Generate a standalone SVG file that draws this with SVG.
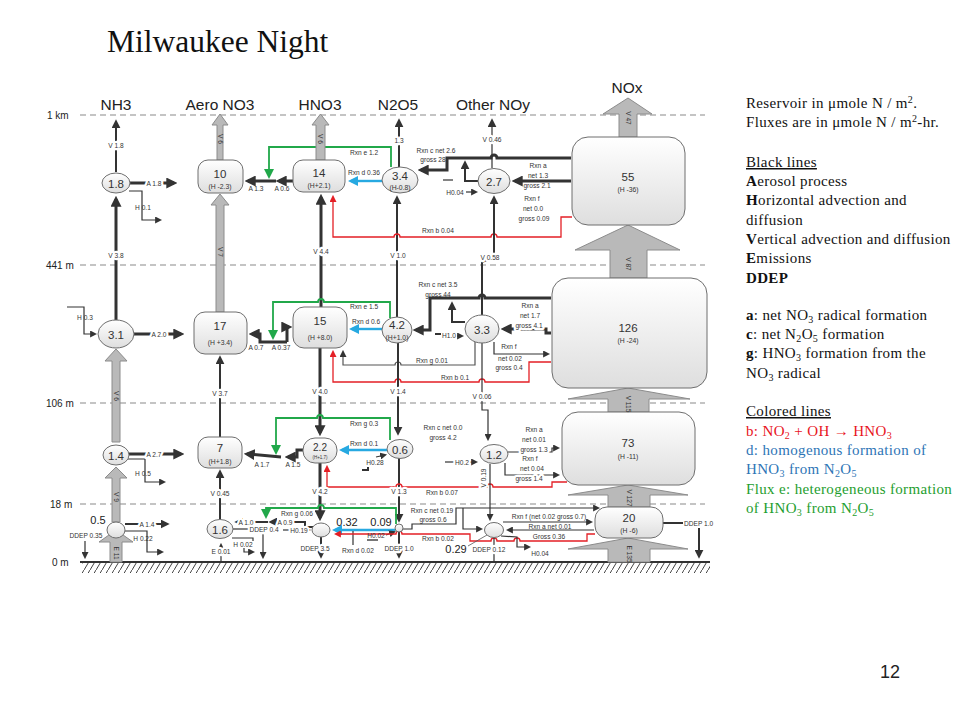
<svg xmlns="http://www.w3.org/2000/svg" width="960" height="720" viewBox="0 0 960 720">
<defs>
<linearGradient id="ng" x1="0" y1="0" x2="0" y2="1"><stop offset="0" stop-color="#ffffff"/><stop offset="1" stop-color="#dedede"/></linearGradient>
<pattern id="hatch" width="6" height="10" patternUnits="userSpaceOnUse"><path d="M0 10L6 0" stroke="#444" stroke-width="1"/></pattern>
<marker id="ak" viewBox="0 0 10 10" refX="7" refY="5" markerWidth="7" markerHeight="7" markerUnits="userSpaceOnUse" orient="auto"><path d="M0,0L10,5L0,10z" fill="#333"/></marker>
<marker id="am" viewBox="0 0 10 10" refX="7" refY="5" markerWidth="9" markerHeight="9" markerUnits="userSpaceOnUse" orient="auto"><path d="M0,0L10,5L0,10z" fill="#333"/></marker>
<marker id="aK" viewBox="0 0 10 10" refX="7" refY="5" markerWidth="11" markerHeight="11" markerUnits="userSpaceOnUse" orient="auto"><path d="M0,0L10,5L0,10z" fill="#333"/></marker>
<marker id="ag" viewBox="0 0 10 10" refX="7" refY="5" markerWidth="10" markerHeight="10" markerUnits="userSpaceOnUse" orient="auto"><path d="M0,0L10,5L0,10z" fill="#21a84a"/></marker>
<marker id="ab" viewBox="0 0 10 10" refX="7" refY="5" markerWidth="10" markerHeight="10" markerUnits="userSpaceOnUse" orient="auto"><path d="M0,0L10,5L0,10z" fill="#27a9e1"/></marker>
<marker id="ar" viewBox="0 0 10 10" refX="7" refY="5" markerWidth="7" markerHeight="7" markerUnits="userSpaceOnUse" orient="auto"><path d="M0,0L10,5L0,10z" fill="#e41f26"/></marker>
</defs>
<style>
.k1{fill:none;stroke:#333;stroke-width:1.2}
.k2{fill:none;stroke:#333;stroke-width:2}
.k3{fill:none;stroke:#333;stroke-width:3}
.g{fill:none;stroke:#21a84a;stroke-width:1.8}
.b{fill:none;stroke:#27a9e1;stroke-width:2.4}
.r{fill:none;stroke:#e41f26;stroke-width:1.3}
.grid{stroke:#8a8a8a;stroke-width:1.2;stroke-dasharray:6 4}
.blk{fill:#b9b9b9;stroke:#8c8c8c;stroke-width:1}
.node{fill:url(#ng);stroke:#6e6e6e;stroke-width:1}
text{font-family:"Liberation Sans",Arial,sans-serif;fill:#333}
.t{font-size:6.6px;text-anchor:middle}
.hl{paint-order:stroke;stroke:#fff;stroke-width:4.5px;stroke-linejoin:round}
.n{font-size:11.5px;text-anchor:middle}
.s{font-size:6.8px;text-anchor:middle}
.hd{font-size:15.5px;text-anchor:middle;fill:#222}
.ax{font-size:10px;fill:#222}
.v{font-size:11px;text-anchor:middle;fill:#222}
.lg{font-family:"Liberation Serif","Times New Roman",serif;font-size:15px;letter-spacing:0.35px;fill:#111}
</style>
<rect width="960" height="720" fill="#fff"/>

<text x="107" y="52" style="font-family:'Liberation Serif','Times New Roman',serif;font-size:31.5px;fill:#111">Milwaukee Night</text>

<g id="axes">
<path class="grid" d="M80 115H705M80 265H705M80 403H705M80 504H705"/>
<text class="ax" x="47" y="119">1 km</text>
<text class="ax" x="46" y="269">441 m</text>
<text class="ax" x="46" y="407">106 m</text>
<text class="ax" x="50" y="508">18 m</text>
<text class="ax" x="52" y="566">0 m</text>
<rect x="82" y="563" width="628" height="10" fill="url(#hatch)"/>
<path d="M80 562H710" stroke="#333" stroke-width="2.2"/>
</g>

<g id="headers">
<text class="hd" x="116" y="110">NH3</text>
<text class="hd" x="220" y="110">Aero NO3</text>
<text class="hd" x="320" y="110">HNO3</text>
<text class="hd" x="398" y="110">N2O5</text>
<text class="hd" x="493" y="110">Other NOy</text>
<text class="hd" x="627" y="93">NOx</text>
</g>

<g id="connectors">
<!-- top layer -->
<path class="k2" d="M116 172V122" marker-end="url(#am)"/>
<path class="k3" d="M130 183H174" marker-end="url(#aK)"/>
<path class="k1" d="M129 191H142V220H160" marker-end="url(#ak)"/>
<path class="k3" d="M116 320V199" marker-end="url(#aK)"/>
<path class="k3" d="M293 181H279" marker-end="url(#aK)"/>
<path class="k3" d="M276 181H248" marker-end="url(#aK)"/>
<path class="g" d="M391 167V147H269V176" marker-end="url(#ag)"/>
<path class="b" d="M382 181H351" marker-end="url(#ab)"/>
<path class="k2" d="M399 167V121" marker-end="url(#am)"/>
<path class="k2" d="M397 317V198" marker-end="url(#am)"/>
<path class="k3" d="M321 307V197" marker-end="url(#aK)"/>
<path class="k3" d="M571 158H497A3 3 0 0 0 491 158H447V170H421" marker-end="url(#aK)"/>
<path class="k2" d="M478 181H465V163" marker-end="url(#am)"/>
<path class="k3" d="M571 181H515" marker-end="url(#aK)"/>
<path class="k1" d="M492 168V121" marker-end="url(#am)"/>
<path class="k1" d="M443 180H453"/>
<path class="k1" d="M466 192H476" marker-end="url(#ak)"/>
<path class="r" d="M572 217H561V237H497A3 3 0 0 0 491 237H400A3 3 0 0 0 394 237H333V197" marker-end="url(#ar)"/>
<!-- middle layer -->
<path class="k1" d="M67 307H84V334H95" marker-end="url(#ak)"/>
<path class="k3" d="M134 334H181" marker-end="url(#aK)"/>
<path class="k3" d="M287 342H260V334H252" marker-end="url(#aK)"/>
<path class="k3" d="M287 342V327H289" marker-end="url(#aK)"/>
<path class="g" d="M390 318V302H324A3 3 0 0 0 318 302H273V337" marker-end="url(#ag)"/>
<path class="b" d="M382 329H352" marker-end="url(#ab)"/>
<path class="k3" d="M551 298H485A3 3 0 0 0 479 298H430V330H416" marker-end="url(#aK)"/>
<path class="k2" d="M465 322H452V304" marker-end="url(#am)"/>
<path class="k3" d="M551 333H546V329H504" marker-end="url(#aK)"/>
<path class="k1" d="M494 342V354H548" marker-end="url(#ak)"/>
<path class="k2" d="M435 334H441"/>
<path class="k1" d="M457 336H462" marker-end="url(#ak)"/>
<path class="k2" d="M482 315V262L494 257V198" marker-end="url(#am)"/>
<path class="k1" d="M475 342V365H401A3 3 0 0 0 395 365H343V352" marker-end="url(#ak)" style="stroke:#555"/>
<path class="r" d="M551 362H529V382H485A3 3 0 0 0 479 382H401A3 3 0 0 0 395 382H333V352" marker-end="url(#ar)"/>
<path class="k2" d="M398 343V433" marker-end="url(#am)"/>
<path class="k3" d="M320 348V433" marker-end="url(#aK)"/>
<path class="k1" d="M482 343V410H488V439" marker-end="url(#ak)"/>
<path class="k2" d="M220 437V358" marker-end="url(#am)"/>
<!-- lower layer -->
<path class="k3" d="M129 454H181" marker-end="url(#aK)"/>
<path class="k1" d="M128 459H145V482H164" marker-end="url(#ak)"/>
<path class="k3" d="M303 450H297V457H288" marker-end="url(#aK)"/>
<path class="k3" d="M281 457L247 454" marker-end="url(#aK)"/>
<path class="g" d="M390 440V418H323A3 3 0 0 0 317 418H276V452" marker-end="url(#ag)"/>
<path class="b" d="M387 450H342" marker-end="url(#ab)"/>
<path class="k1" d="M376 457L385 455" marker-end="url(#ak)"/>
<path class="k2" d="M362 470H368V467"/>
<path class="k2" d="M399 458V520" marker-end="url(#am)"/>
<path class="k3" d="M320 463V518" marker-end="url(#aK)"/>
<path class="k1" d="M445 462H476" marker-end="url(#ak)"/>
<path class="k1" d="M508 452H552V448H558" marker-end="url(#ak)"/>
<path class="k1" d="M505 463V475H558" marker-end="url(#ak)"/>
<path class="r" d="M567 482H552V487H493A3 3 0 0 0 487 487H402A3 3 0 0 0 396 487H327V467" marker-end="url(#ar)"/>
<path class="k1" d="M490 464V519" marker-end="url(#ak)"/>
<!-- bottom layer -->
<path class="k2" d="M125 524H167" marker-end="url(#am)"/>
<path class="k1" d="M125 531H147V552H162" marker-end="url(#ak)"/>
<path class="k1" d="M85 541V557" marker-end="url(#ak)"/>
<path class="k2" d="M220 519V472" marker-end="url(#am)"/>
<path class="k1" d="M221 562V545" marker-end="url(#ak)"/>
<path class="k2" d="M313 527H305V522H271" marker-end="url(#am)"/>
<path class="k2" d="M268 522H237" marker-end="url(#am)"/>
<path class="g" d="M396 524V508H324A3 3 0 0 0 318 508H266V516" marker-end="url(#ag)"/>
<path class="k1" d="M233 529H249"/>
<path class="k1" d="M263 534V557" marker-end="url(#ak)"/>
<path class="k1" d="M283 530H309" marker-end="url(#ak)"/>
<path class="k1" d="M232 538H253V541"/>
<path class="k1" d="M244 548V552H253" marker-end="url(#ak)"/>
<path class="k2" d="M321 537V556" marker-end="url(#am)"/>
<path class="b" d="M395 530H335" marker-end="url(#ab)"/>
<path class="k1" d="M353 531V545"/>
<path class="k1" d="M386 535L394 532" marker-end="url(#ak)"/>
<path d="M367 540H378" stroke="#777" stroke-width="2"/>
<path class="r" d="M595 534H587V541H520A3 3 0 0 0 514 541H497A3 3 0 0 0 491 541H470V534H402A3 3 0 0 0 396 534H336" marker-end="url(#ar)"/>
<path class="k1" d="M403 529H412V524H456V508H598" marker-end="url(#ak)"/>
<path class="k1" d="M463 508V529H481" marker-end="url(#ak)"/>
<path class="k1" d="M503 522H591" marker-end="url(#ak)"/>
<path class="k1" d="M594 530H508" marker-end="url(#ak)"/>
<path class="k1" d="M501 536L517 537V547H529" marker-end="url(#ak)"/>
<path class="k1" d="M494 538V561"/>
<path d="M468 546L487 535" stroke="#555" stroke-width="0.8"/>
<path class="k2" d="M399 532V556" marker-end="url(#am)"/>
<path class="k2" d="M663 523H683"/>
<path class="k2" d="M699 528V556" marker-end="url(#am)"/>
<!-- block arrows -->
<path class="blk" d="M619 137V114H603L628 98L652 114H637V137Z"/>
<path class="blk" d="M610 278V250H575L628 225L680 250H647V278Z"/>
<path class="blk" d="M608 412V399H568L628 388L690 399H649V412Z"/>
<path class="blk" d="M608 507V495H568L628 485L688 495H650V507Z"/>
<path class="blk" d="M608 562V549H568L628 538L688 549H650V562Z"/>
<path class="blk" d="M217 160V125H212L220 114L228 125H223V160Z"/>
<path class="blk" d="M216 312V205H211L220 194L229 205H224V312Z"/>
<path class="blk" d="M316 160V125H312L320.5 114L329 125H325V160Z"/>
<path class="blk" d="M112 442V361H105L116 349L127 361H120V442Z"/>
<path class="blk" d="M112 522V478H105L116 467L127 478H120V522Z"/>
<path class="blk" d="M110 562V542H99L116 530L133 542H122V562Z"/>
</g>

<g id="n-nh3-1"><ellipse class="node" cx="116" cy="183" rx="14" ry="10"/><text class="n" x="116" y="187.5">1.8</text></g>
<g id="n-aero-1"><rect class="node" x="198" y="160" width="45" height="33" rx="10"/><text class="n" x="220" y="178">10</text><text class="s" x="220" y="189">(H -2.3)</text></g>
<g id="n-hno3-1"><rect class="node" x="293" y="160" width="52" height="32" rx="10"/><text class="n" x="319" y="177">14</text><text class="s" x="319" y="188">(H+2.1)</text></g>
<g id="n-n2o5-1"><ellipse class="node" cx="400" cy="180" rx="18" ry="13"/><text class="n" x="400" y="180">3.4</text><text class="s" x="400" y="190">(H-0.8)</text></g>
<g id="n-noy-1"><ellipse class="node" cx="494" cy="181" rx="16" ry="12.5"/><text class="n" x="494" y="185.5">2.7</text></g>
<g id="n-nox-1"><rect class="node" x="572" y="137" width="113" height="88" rx="16"/><text class="n" x="628" y="181">55</text><text class="s" x="628" y="192">(H -36)</text></g>

<g id="n-nh3-2"><ellipse class="node" cx="116" cy="334" rx="18" ry="14"/><text class="n" x="116" y="338.5">3.1</text></g>
<g id="n-aero-2"><rect class="node" x="194" y="312" width="53" height="42" rx="11"/><text class="n" x="220" y="330">17</text><text class="s" x="220" y="345">(H +3.4)</text></g>
<g id="n-hno3-2"><rect class="node" x="293" y="307" width="54" height="41" rx="11"/><text class="n" x="320" y="325">15</text><text class="s" x="320" y="340">(H +8.0)</text></g>
<g id="n-n2o5-2"><ellipse class="node" cx="397" cy="330" rx="15" ry="13"/><text class="n" x="397" y="329">4.2</text><text class="s" x="397" y="339.5">(H+1.0)</text></g>
<g id="n-noy-2"><ellipse class="node" cx="482" cy="329" rx="17" ry="14"/><text class="n" x="482" y="333.5">3.3</text></g>
<g id="n-nox-2"><rect class="node" x="552" y="278" width="155" height="110" rx="16"/><text class="n" x="628" y="332">126</text><text class="s" x="628" y="343">(H -24)</text></g>

<g id="n-nh3-3"><ellipse class="node" cx="116" cy="455" rx="13" ry="10"/><text class="n" x="116" y="459.5">1.4</text></g>
<g id="n-aero-3"><rect class="node" x="198" y="437" width="44" height="31" rx="10"/><text class="n" x="220" y="452">7</text><text class="s" x="220" y="464">(H+1.8)</text></g>
<g id="n-hno3-3"><rect class="node" x="303" y="438" width="34" height="25" rx="12"/><text class="n" x="320" y="451" style="font-size:10px">2.2</text><text class="s" x="320" y="459" style="font-size:4.5px">(H+1.7)</text></g>
<g id="n-n2o5-3"><ellipse class="node" cx="400" cy="449" rx="13" ry="9.5"/><text class="n" x="400" y="453.5">0.6</text></g>
<g id="n-noy-3"><ellipse class="node" cx="494" cy="454" rx="14" ry="9.5"/><text class="n" x="494" y="458.5">1.2</text></g>
<g id="n-nox-3"><rect class="node" x="562" y="412" width="133" height="73" rx="16"/><text class="n" x="628" y="447">73</text><text class="s" x="628" y="459">(H -11)</text></g>

<g id="n-nh3-4"><ellipse class="node" cx="116" cy="530" rx="9" ry="8"/><text class="v" x="98" y="524">0.5</text></g>
<g id="n-aero-4"><ellipse class="node" cx="220" cy="529" rx="13" ry="9.5"/><text class="n" x="220" y="533.5">1.6</text></g>
<g id="n-hno3-4"><ellipse class="node" cx="321" cy="530" rx="9" ry="7"/><text class="v" x="347" y="526">0.32</text></g>
<g id="n-n2o5-4"><circle class="node" cx="399" cy="528" r="4"/><text class="v" x="381" y="526">0.09</text></g>
<g id="n-noy-4"><ellipse class="node" cx="494" cy="530" rx="9.5" ry="7.5"/><text class="v" x="456" y="553">0.29</text></g>
<g id="n-nox-4"><rect class="node" x="595" y="507" width="68" height="31" rx="12"/><text class="n" x="629" y="522">20</text><text class="s" x="629" y="533">(H -6)</text></g>

<g id="flow-labels">
<text class="t hl" x="116" y="148">V 1.8</text>
<text class="t hl" x="154" y="185.5">A 1.8</text>
<text class="t" x="143" y="210">H 0.1</text>
<text class="t" x="256" y="191">A 1.3</text>
<text class="t" x="282" y="191">A 0.6</text>
<text class="t" x="364" y="155">Rxn e 1.2</text>
<text class="t" x="364" y="175">Rxn d 0.36</text>
<text class="t hl" x="399" y="143">1.3</text>
<text class="t" x="436" y="153">Rxn c net 2.6</text>
<text class="t" x="433" y="162">gross 28</text>
<text class="t hl" x="492" y="142">V 0.46</text>
<text class="t" x="455" y="195">H0.04</text>
<text class="t" x="538" y="168">Rxn a</text>
<text class="t" x="538" y="177.5">net 1.3</text>
<text class="t" x="537" y="188">gross 2.1</text>
<text class="t" x="532" y="201">Rxn f</text>
<text class="t" x="533" y="211">net 0.0</text>
<text class="t" x="534" y="221">gross 0.09</text>
<text class="t" x="438" y="233">Rxn b 0.04</text>
<text class="t hl" x="321" y="254">V 4.4</text>
<text class="t hl" x="398" y="258">V 1.0</text>
<text class="t hl" x="490" y="260">V 0.58</text>
<text class="t hl" x="116" y="258">V 3.8</text>

<text class="t" x="85" y="320">H 0.3</text>
<text class="t hl" x="159" y="336.5">A 2.0</text>
<text class="t" x="256" y="350">A 0.7</text>
<text class="t" x="281" y="350">A 0.37</text>
<text class="t" x="364" y="309">Rxn e 1.5</text>
<text class="t" x="366" y="324">Rxn d 0.6</text>
<text class="t" x="438" y="287">Rxn c net 3.5</text>
<text class="t" x="438" y="296.5">gross 44</text>
<text class="t" x="530" y="308">Rxn a</text>
<text class="t" x="530" y="318">net 1.7</text>
<text class="t hl" x="529" y="327.5">gross 4.1</text>
<text class="t" x="509" y="349">Rxn f</text>
<text class="t" x="510" y="360.5">net 0.02</text>
<text class="t" x="509" y="370">gross 0.4</text>
<text class="t" x="449" y="338">H1.0</text>
<text class="t" x="432" y="363">Rxn g 0.01</text>
<text class="t" x="455" y="379.5">Rxn b 0.1</text>
<text class="t hl" x="320" y="394">V 4.0</text>
<text class="t hl" x="398" y="394">V 1.4</text>
<text class="t hl" x="482" y="399">V 0.06</text>
<text class="t hl" x="220" y="396">V 3.7</text>

<text class="t hl" x="154" y="457">A 2.7</text>
<text class="t" x="143" y="476">H 0.5</text>
<text class="t" x="262" y="467">A 1.7</text>
<text class="t" x="293" y="467">A 1.5</text>
<text class="t" x="364" y="426">Rxn g 0.3</text>
<text class="t" x="364" y="446">Rxn d 0.1</text>
<text class="t" x="443" y="430">Rxn c net 0.0</text>
<text class="t" x="443" y="439.5">gross 4.2</text>
<text class="t" x="375" y="465">H0.28</text>
<text class="t hl" x="462" y="464.5">H0.2</text>
<text class="t" x="534" y="432">Rxn a</text>
<text class="t" x="534" y="442">net 0.01</text>
<text class="t hl" x="534" y="452">gross 1.3</text>
<text class="t" x="530" y="461">Rxn f</text>
<text class="t" x="532" y="471">net 0.04</text>
<text class="t hl" x="529" y="481">gross 1.4</text>
<text class="t" x="442" y="495">Rxn b 0.07</text>
<text class="t hl" x="320" y="494">V 4.2</text>
<text class="t hl" x="399" y="494">V 1.3</text>
<text class="t hl" x="220" y="496">V 0.45</text>
<text class="t hl" transform="translate(486 478) rotate(-90)">V 0.19</text>

<text class="t hl" x="147" y="526.5">A 1.4</text>
<text class="t" x="143" y="541">H 0.22</text>
<text class="t" x="86" y="538">DDEP 0.35</text>
<text class="t hl" x="246" y="524.5">A 1.0</text>
<text class="t hl" x="285" y="524.5">A 0.9</text>
<text class="t" x="297" y="516">Rxn g 0.06</text>
<text class="t hl" x="264" y="531.5">DDEP 0.4</text>
<text class="t hl" x="299" y="532.5">H0.19</text>
<text class="t" x="243" y="546.5">H 0.02</text>
<text class="t hl" x="221" y="554">E 0.01</text>
<text class="t hl" x="315" y="551">DDEP 3.5</text>
<text class="t" x="358" y="553">Rxn d 0.02</text>
<text class="t" x="376" y="537.5">H0.02</text>
<text class="t hl" x="399" y="551">DDEP 1.0</text>
<text class="t" x="432" y="513">Rxn c net 0.19</text>
<text class="t" x="433" y="522">gross 0.6</text>
<text class="t" x="438" y="541">Rxn b 0.02</text>
<text class="t hl" x="489" y="552">DDEP 0.12</text>
<text class="t" x="549" y="519">Rxn f (net 0.02 gross 0.7)</text>
<text class="t" x="550" y="528.5">Rxn a net 0.01</text>
<text class="t" x="549" y="539">Gross 0.36</text>
<text class="t" x="540" y="556">H0.04</text>
<text class="t" x="684" y="525.5" style="text-anchor:start">DDEP 1.0</text>

<text class="t" transform="translate(628 118) rotate(90)" dy="2.3">V 47</text>
<text class="t" transform="translate(628 264) rotate(90)" dy="2.3">V 87</text>
<text class="t" transform="translate(628 404) rotate(90)" dy="2.3">V 115</text>
<text class="t" transform="translate(629 498) rotate(90)" dy="2.3">V 127</text>
<text class="t" transform="translate(629 554) rotate(90)" dy="2.3">E 135</text>
<text class="t" transform="translate(220 139) rotate(90)" dy="2.3">V 6</text>
<text class="t" transform="translate(220 252) rotate(90)" dy="2.3">V 7</text>
<text class="t" transform="translate(320.5 139) rotate(90)" dy="2.3">V 6</text>
<text class="t" transform="translate(116 396) rotate(90)" dy="2.3">V 6</text>
<text class="t" transform="translate(116 497) rotate(90)" dy="2.3">V 9</text>
<text class="t" transform="translate(116 553) rotate(90)" dy="2.3">E 11</text>
</g>

<g id="legend">
<text class="lg" x="746" y="108">Reservoir in μmole N / m<tspan font-size="10" dy="-5">2</tspan><tspan dy="5">.</tspan></text>
<text class="lg" x="746" y="127">Fluxes are in μmole N / m<tspan font-size="10" dy="-5">2</tspan><tspan dy="5">-hr.</tspan></text>
<text class="lg" x="746" y="167" text-decoration="underline">Black lines</text>
<text class="lg" x="746" y="186"><tspan font-weight="bold">A</tspan>erosol process</text>
<text class="lg" x="746" y="205"><tspan font-weight="bold">H</tspan>orizontal advection and</text>
<text class="lg" x="746" y="225">diffusion</text>
<text class="lg" x="746" y="244"><tspan font-weight="bold">V</tspan>ertical advection and diffusion</text>
<text class="lg" x="746" y="263"><tspan font-weight="bold">E</tspan>missions</text>
<text class="lg" x="746" y="283" font-weight="bold">DDEP</text>
<text class="lg" x="746" y="320"><tspan font-weight="bold">a</tspan>:  net NO<tspan font-size="10" dy="3">3</tspan><tspan dy="-3"> radical formation</tspan></text>
<text class="lg" x="746" y="339"><tspan font-weight="bold">c</tspan>: net N<tspan font-size="10" dy="3">2</tspan><tspan dy="-3">O</tspan><tspan font-size="10" dy="3">5</tspan><tspan dy="-3"> formation</tspan></text>
<text class="lg" x="746" y="358"><tspan font-weight="bold">g</tspan>: HNO<tspan font-size="10" dy="3">3</tspan><tspan dy="-3"> formation from the</tspan></text>
<text class="lg" x="746" y="378">NO<tspan font-size="10" dy="3">3</tspan><tspan dy="-3"> radical</tspan></text>
<text class="lg" x="746" y="416" text-decoration="underline">Colored lines</text>
<text class="lg" x="746" y="436" style="fill:#e8141c">b: NO<tspan font-size="10" dy="3">2</tspan><tspan dy="-3"> + OH → HNO</tspan><tspan font-size="10" dy="3">3</tspan></text>
<text class="lg" x="746" y="455" style="fill:#2e75b6">d: homogenous formation of</text>
<text class="lg" x="746" y="474" style="fill:#2e75b6">HNO<tspan font-size="10" dy="3">3</tspan><tspan dy="-3"> from N</tspan><tspan font-size="10" dy="3">2</tspan><tspan dy="-3">O</tspan><tspan font-size="10" dy="3">5</tspan></text>
<text class="lg" x="746" y="494" style="fill:#1e9e2e">Flux e: heterogeneous formation</text>
<text class="lg" x="746" y="513" style="fill:#1e9e2e">of HNO<tspan font-size="10" dy="3">3</tspan><tspan dy="-3"> from N</tspan><tspan font-size="10" dy="3">2</tspan><tspan dy="-3">O</tspan><tspan font-size="10" dy="3">5</tspan></text>
</g>

<text x="880" y="678" style="font-size:18px;fill:#222">12</text>
</svg>
